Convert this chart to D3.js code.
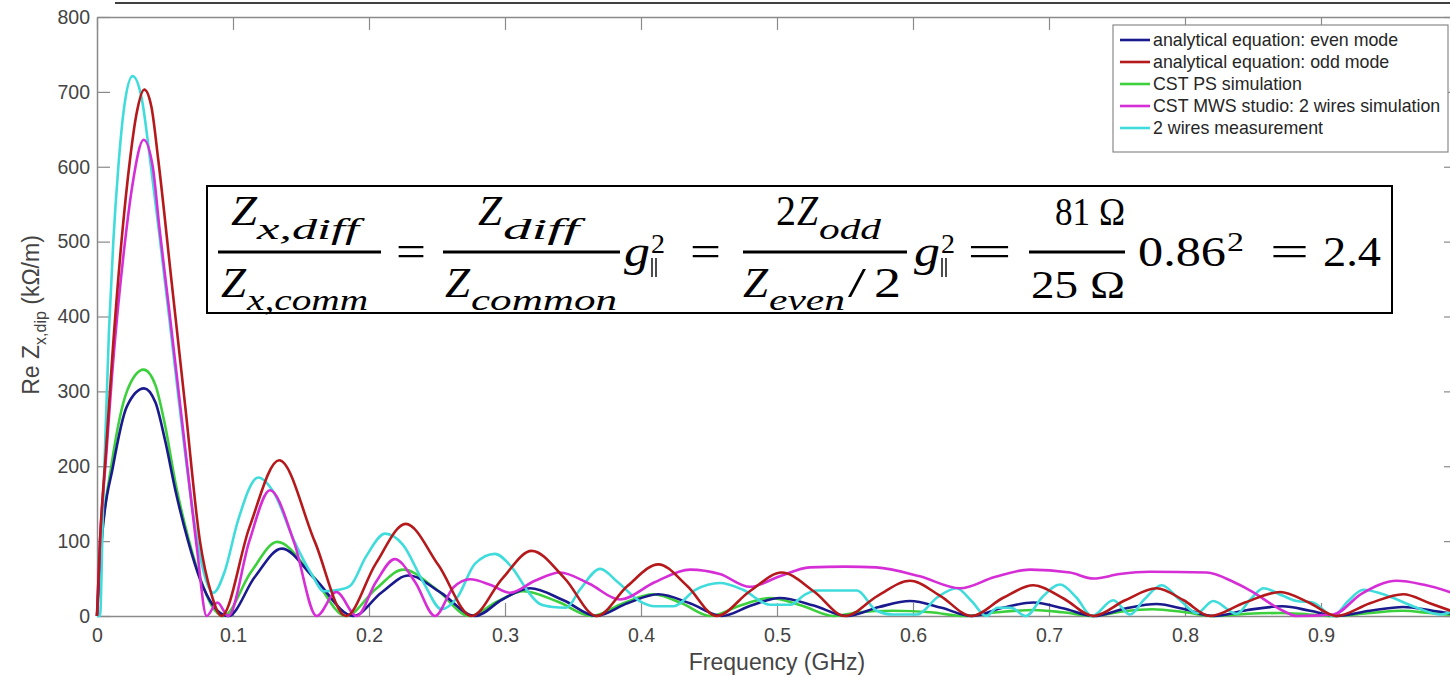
<!DOCTYPE html>
<html>
<head>
<meta charset="utf-8">
<script src="https://cdn.jsdelivr.net/npm/d3@7"></script>
<style>
  body { margin: 0; background: #fff; }
  svg { display: block; }
</style>
</head>
<body>
<div id="chart"></div>
<script>
// tick values
const freqTicks = [0, 0.1, 0.2, 0.3, 0.4, 0.5, 0.6, 0.7, 0.8, 0.9];
const impTicks = [0, 100, 200, 300, 400, 500, 600, 700, 800];

const seriesNames = [
  'analytical equation: even mode',
  'analytical equation: odd mode',
  'CST PS simulation',
  'CST MWS studio: 2 wires simulation',
  '2 wires measurement'
];

// [frequency GHz, Re Z kOhm/m]
const evenMode = [
  [0,0],[0.0034,100],[0.0118,200],[0.022,280],[0.0346,304],[0.043,285],[0.05,235],[0.058,165],[0.067,100],[0.076,48],[0.085,15],[0.0966,0],
  [0.116,52],[0.1358,90],[0.16,50],[0.1885,0],
  [0.209,31],[0.229,54],[0.253,31],[0.278,0],
  [0.298,22],[0.3184,37],[0.343,21],[0.367,0],
  [0.39,17],[0.4128,29],[0.436,17],[0.4595,0],
  [0.481,14],[0.502,24],[0.527,14],[0.5513,0],
  [0.575,12],[0.5978,20],[0.621,11],[0.643,0],
  [0.666,11],[0.6885,18],[0.711,10],[0.733,0],
  [0.756,10],[0.779,16],[0.80,9],[0.821,0],
  [0.846,8],[0.8716,13],[0.892,7],[0.9115,0],
  [0.936,7],[0.9605,12],[0.982,7],[1.0,2]
];

const oddMode = [
  [0,0],[0.0022,100],[0.0066,220],[0.011,340],[0.018,500],[0.0243,610],[0.029,670],[0.0348,703],[0.04,680],[0.045,610],
  [0.055,444],[0.065,278],[0.0757,100],[0.084,30],[0.0915,0],
  [0.112,118],[0.134,208],[0.16,100],[0.183,0],
  [0.205,70],[0.227,123],[0.251,68],[0.2755,0],
  [0.298,50],[0.3196,87],[0.344,50],[0.3674,0],
  [0.39,40],[0.4128,69],[0.434,40],[0.4556,0],
  [0.48,33],[0.5034,58],[0.527,33],[0.55,0],
  [0.574,27],[0.5978,47],[0.62,27],[0.643,0],
  [0.666,24],[0.6885,41],[0.711,23],[0.7326,0],
  [0.756,21],[0.779,37],[0.799,21],[0.8184,0],
  [0.844,18],[0.8699,32],[0.891,18],[0.9115,0],
  [0.936,17],[0.9605,29],[0.98,17],[1.0,4]
];

const cstPs = [
  [0,0],[0.0034,100],[0.0105,200],[0.022,300],[0.0343,329],[0.043,308],[0.05,255],[0.058,175],[0.067,105],[0.076,50],[0.084,15],[0.093,0],
  [0.113,58],[0.1326,99],[0.158,55],[0.183,0],
  [0.205,36],[0.2252,62],[0.25,35],[0.274,0],
  [0.294,19],[0.3135,33],[0.339,19],[0.3637,0],
  [0.387,17],[0.409,29],[0.43,17],[0.4507,0],
  [0.473,14],[0.4949,24],[0.518,14],[0.5419,0],
  [0.56,5],[0.585,7],[0.613,5],[0.6375,0],
  [0.662,5],[0.6885,8],[0.71,5],[0.733,0],
  [0.754,6],[0.776,9],[0.80,5],[0.821,0],
  [0.846,3],[0.87,4],[0.891,2],[0.9115,0],
  [0.936,4],[0.96,7],[0.98,4],[1.0,1]
];

const mwsTwoWires = [
  [0,0],[0.0022,100],[0.0066,210],[0.011,320],[0.0206,500],[0.026,575],[0.0343,636],[0.041,600],[0.0458,520],[0.053,410],
  [0.06,300],[0.067,190],[0.0735,90],[0.0806,0],[0.0885,18],[0.0966,0],
  [0.112,100],[0.1272,168],[0.145,98],[0.1615,0],
  [0.176,32],[0.191,0],
  [0.205,45],[0.219,76],[0.234,45],[0.2485,0],
  [0.262,38],[0.2743,49],[0.29,41],[0.3037,31],[0.322,47],[0.3404,58],[0.362,43],[0.3846,22],
  [0.41,45],[0.436,62],[0.458,56],[0.48,39],[0.502,53],[0.524,65],[0.55,66],[0.573,65],[0.605,53],[0.6346,37],
  [0.66,52],[0.686,62],[0.7154,58],[0.7326,50],[0.752,56],[0.774,59],[0.816,58],[0.835,46],[0.848,34],
  [0.872,7],[0.882,0],[0.909,2],[0.93,30],[0.9557,47],[0.975,42],[1.0,29]
];

const measurement = [
  [0,0],[0.0022,0],[0.0045,150],[0.0088,381],[0.012,500],[0.0157,600],[0.02,680],[0.0262,721],[0.033,690],[0.039,610],
  [0.0458,510],[0.053,400],[0.06,290],[0.066,200],[0.0733,105],[0.079,55],[0.0855,31],
  [0.094,60],[0.1036,127],[0.1186,185],[0.13,165],[0.145,100],[0.158,55],[0.167,33],[0.178,35],[0.186,40],
  [0.198,80],[0.2118,110],[0.225,95],[0.24,45],[0.2534,9],[0.265,25],[0.278,70],[0.2926,83],[0.305,65],
  [0.318,30],[0.3257,16],[0.335,12],[0.345,11],[0.355,35],[0.37,63],[0.383,45],[0.399,20],[0.41,13],[0.424,13],
  [0.44,35],[0.458,44],[0.475,35],[0.4949,15],[0.51,15],[0.52,28],[0.529,34],[0.5586,34],[0.5733,7],[0.585,2],
  [0.603,2],[0.618,25],[0.632,37],[0.643,20],[0.654,0],[0.662,11],[0.672,11],[0.683,0],[0.695,25],[0.7081,42],
  [0.72,25],[0.7316,0],[0.7473,21],[0.7596,2],[0.77,22],[0.7828,41],[0.797,20],[0.8086,4],[0.8208,20],[0.838,3],
  [0.848,22],[0.8576,37],[0.872,27],[0.8821,20],[0.894,18],[0.909,0],[0.92,20],[0.9311,35],[0.9458,29],
  [0.9706,11],[0.9877,2],[1.0,9]
];

const allSeries = [evenMode, oddMode, cstPs, mwsTwoWires, measurement];
const colors = ['#1a1a8e', '#b5191b', '#3cd03c', '#d62ed6', '#40dcdc'];
const drawOrder = [2, 0, 4, 3, 1];

const W = 1450, H = 677;
const svg = d3.select('#chart').append('svg')
  .attr('width', W)
  .attr('height', H)
  .style('font-family', 'Liberation Sans, Arial, sans-serif');

svg.append('rect').attr('width', W).attr('height', H).attr('fill', '#fff');

// thin black rule at the very top of the slide
svg.append('line')
  .attr('x1', 115).attr('x2', W).attr('y1', 3).attr('y2', 3)
  .attr('stroke', '#000').attr('stroke-width', 1.5);

const x = d3.scaleLinear().domain([0, 1]).range([97, 1457]);
const y = d3.scaleLinear().domain([0, 800]).range([616, 17]);

const axisColor = '#8a8a8a';
const labelColor = '#444';

function styleAxis(g) {
  g.select('.domain').attr('stroke', axisColor).attr('stroke-width', 1.5);
  g.selectAll('.tick line').attr('stroke', axisColor).attr('stroke-width', 1.2);
  g.selectAll('.tick text').attr('fill', labelColor).style('font-size', '19.5px')
    .style('font-family', 'Liberation Sans, Arial, sans-serif');
}

svg.append('g')
  .attr('transform', `translate(0,${y(0)})`)
  .call(d3.axisBottom(x).tickValues(freqTicks).tickFormat(d => d === 0 ? '0' : d3.format('.1f')(d))
    .tickSizeInner(-13).tickSizeOuter(0).tickPadding(12))
  .call(styleAxis);

svg.append('g')
  .attr('transform', `translate(0,${y(800)})`)
  .call(d3.axisBottom(x).tickValues(freqTicks).tickFormat('').tickSizeInner(13).tickSizeOuter(0))
  .call(styleAxis);

svg.append('g')
  .attr('transform', `translate(${x(0)},0)`)
  .call(d3.axisLeft(y).tickValues(impTicks).tickSizeInner(-13).tickSizeOuter(0).tickPadding(7))
  .call(styleAxis);

svg.append('g')
  .attr('transform', `translate(${x(1)},0)`)
  .call(d3.axisLeft(y).tickValues(impTicks).tickFormat('').tickSizeInner(13).tickSizeOuter(0))
  .call(styleAxis);

// curves
const line = d3.line()
  .x(d => x(d[0]))
  .y(d => y(d[1]))
  .curve(d3.curveMonotoneX);

drawOrder.forEach(i => {
  svg.append('path')
    .datum(allSeries[i])
    .attr('fill', 'none')
    .attr('stroke', colors[i])
    .attr('stroke-width', 2.6)
    .attr('stroke-linejoin', 'round')
    .attr('d', line);
});

// axis titles
svg.append('text')
  .attr('x', 777).attr('y', 670)
  .attr('text-anchor', 'middle')
  .attr('fill', labelColor)
  .style('font-size', '23px')
  .text('Frequency (GHz)');

const yTitle = svg.append('text')
  .attr('transform', 'translate(39,315) rotate(-90)')
  .attr('text-anchor', 'middle')
  .attr('fill', labelColor)
  .style('font-size', '23px');
yTitle.append('tspan').text('Re Z');
yTitle.append('tspan').attr('dy', 7).style('font-size', '16px').text('x,dip');
yTitle.append('tspan').attr('dy', -7).text(' (kΩ/m)');

// legend
const legend = svg.append('g');
legend.append('rect')
  .attr('x', 1113).attr('y', 25).attr('width', 335).attr('height', 127)
  .attr('fill', '#fff').attr('stroke', '#8a8a8a').attr('stroke-width', 1.2);
seriesNames.forEach((name, i) => {
  const yy = 40 + i * 22;
  legend.append('line')
    .attr('x1', 1120).attr('x2', 1150).attr('y1', yy).attr('y2', yy)
    .attr('stroke', colors[i]).attr('stroke-width', 2.6);
  legend.append('text')
    .attr('x', 1153).attr('y', yy + 6)
    .attr('fill', '#262626')
    .style('font-size', '17.8px')
    .text(name);
});

// formula box
const fx = svg.append('g').style('font-family', 'Liberation Serif, Times New Roman, serif').attr('fill', '#000');
fx.append('rect')
  .attr('x', 207).attr('y', 186).attr('width', 1185).attr('height', 127)
  .attr('fill', '#fff').attr('stroke', '#000').attr('stroke-width', 2);

function put(str, x0, x1, base, size, italic) {
  fx.append('text')
    .attr('x', x0).attr('y', base)
    .attr('textLength', x1 - x0)
    .attr('lengthAdjust', 'spacingAndGlyphs')
    .style('font-size', size + 'px')
    .style('font-style', italic ? 'italic' : 'normal')
    .text(str);
}
function bar(x0, x1) {
  fx.append('rect').attr('x', x0).attr('y', 250.5).attr('width', x1 - x0).attr('height', 3);
}
function gpar(x0) {
  put('g', x0, x0 + 26, 266, 44, true);
  fx.append('line').attr('x1', x0 + 28).attr('x2', x0 + 28).attr('y1', 258).attr('y2', 277).attr('stroke', '#000').attr('stroke-width', 1.4);
  fx.append('line').attr('x1', x0 + 32).attr('x2', x0 + 32).attr('y1', 258).attr('y2', 277).attr('stroke', '#000').attr('stroke-width', 1.4);
  put('2', x0 + 27, x0 + 41, 253, 28, false);
}

// Z_x,diff / Z_x,comm
put('Z', 231, 257, 225, 42, true);
put('x,diff', 257, 359, 239, 29, true);
bar(218, 381);
put('Z', 221, 246, 297, 42, true);
put('x,comm', 247, 368, 310, 29, true);
put('=', 396, 426, 266, 44, false);
// Z_diff / Z_common g^2
put('Z', 478, 502, 225, 42, true);
put('diff', 503, 579, 239, 29, true);
bar(443, 620);
put('Z', 445, 470, 297, 42, true);
put('common', 471, 617, 310, 29, true);
gpar(624);
put('=', 690, 721, 266, 44, false);
// 2 Z_odd / (Z_even / 2) g^2
put('2', 776, 796, 225, 42, false);
put('Z', 797, 818, 225, 42, true);
put('odd', 819, 881, 239, 29, true);
bar(743, 907);
put('Z', 743, 768, 297, 42, true);
put('even', 769, 845, 310, 29, true);
put('/', 848, 866, 297, 42, false);
put('2', 874, 901, 297, 42, false);
gpar(914);
put('=', 967, 1012, 266, 44, false);
// 81 Ω / 25 Ω 0.86^2 = 2.4
put('81 Ω', 1055, 1125, 225, 41, false);
bar(1029, 1125);
put('25 Ω', 1031, 1125, 298, 41, false);
put('0.86', 1138, 1226, 266, 42, false);
put('2', 1227, 1244, 251, 28, false);
put('=', 1270, 1309, 266, 44, false);
put('2.4', 1323, 1381, 266, 42, false);
</script>
</body>
</html>
